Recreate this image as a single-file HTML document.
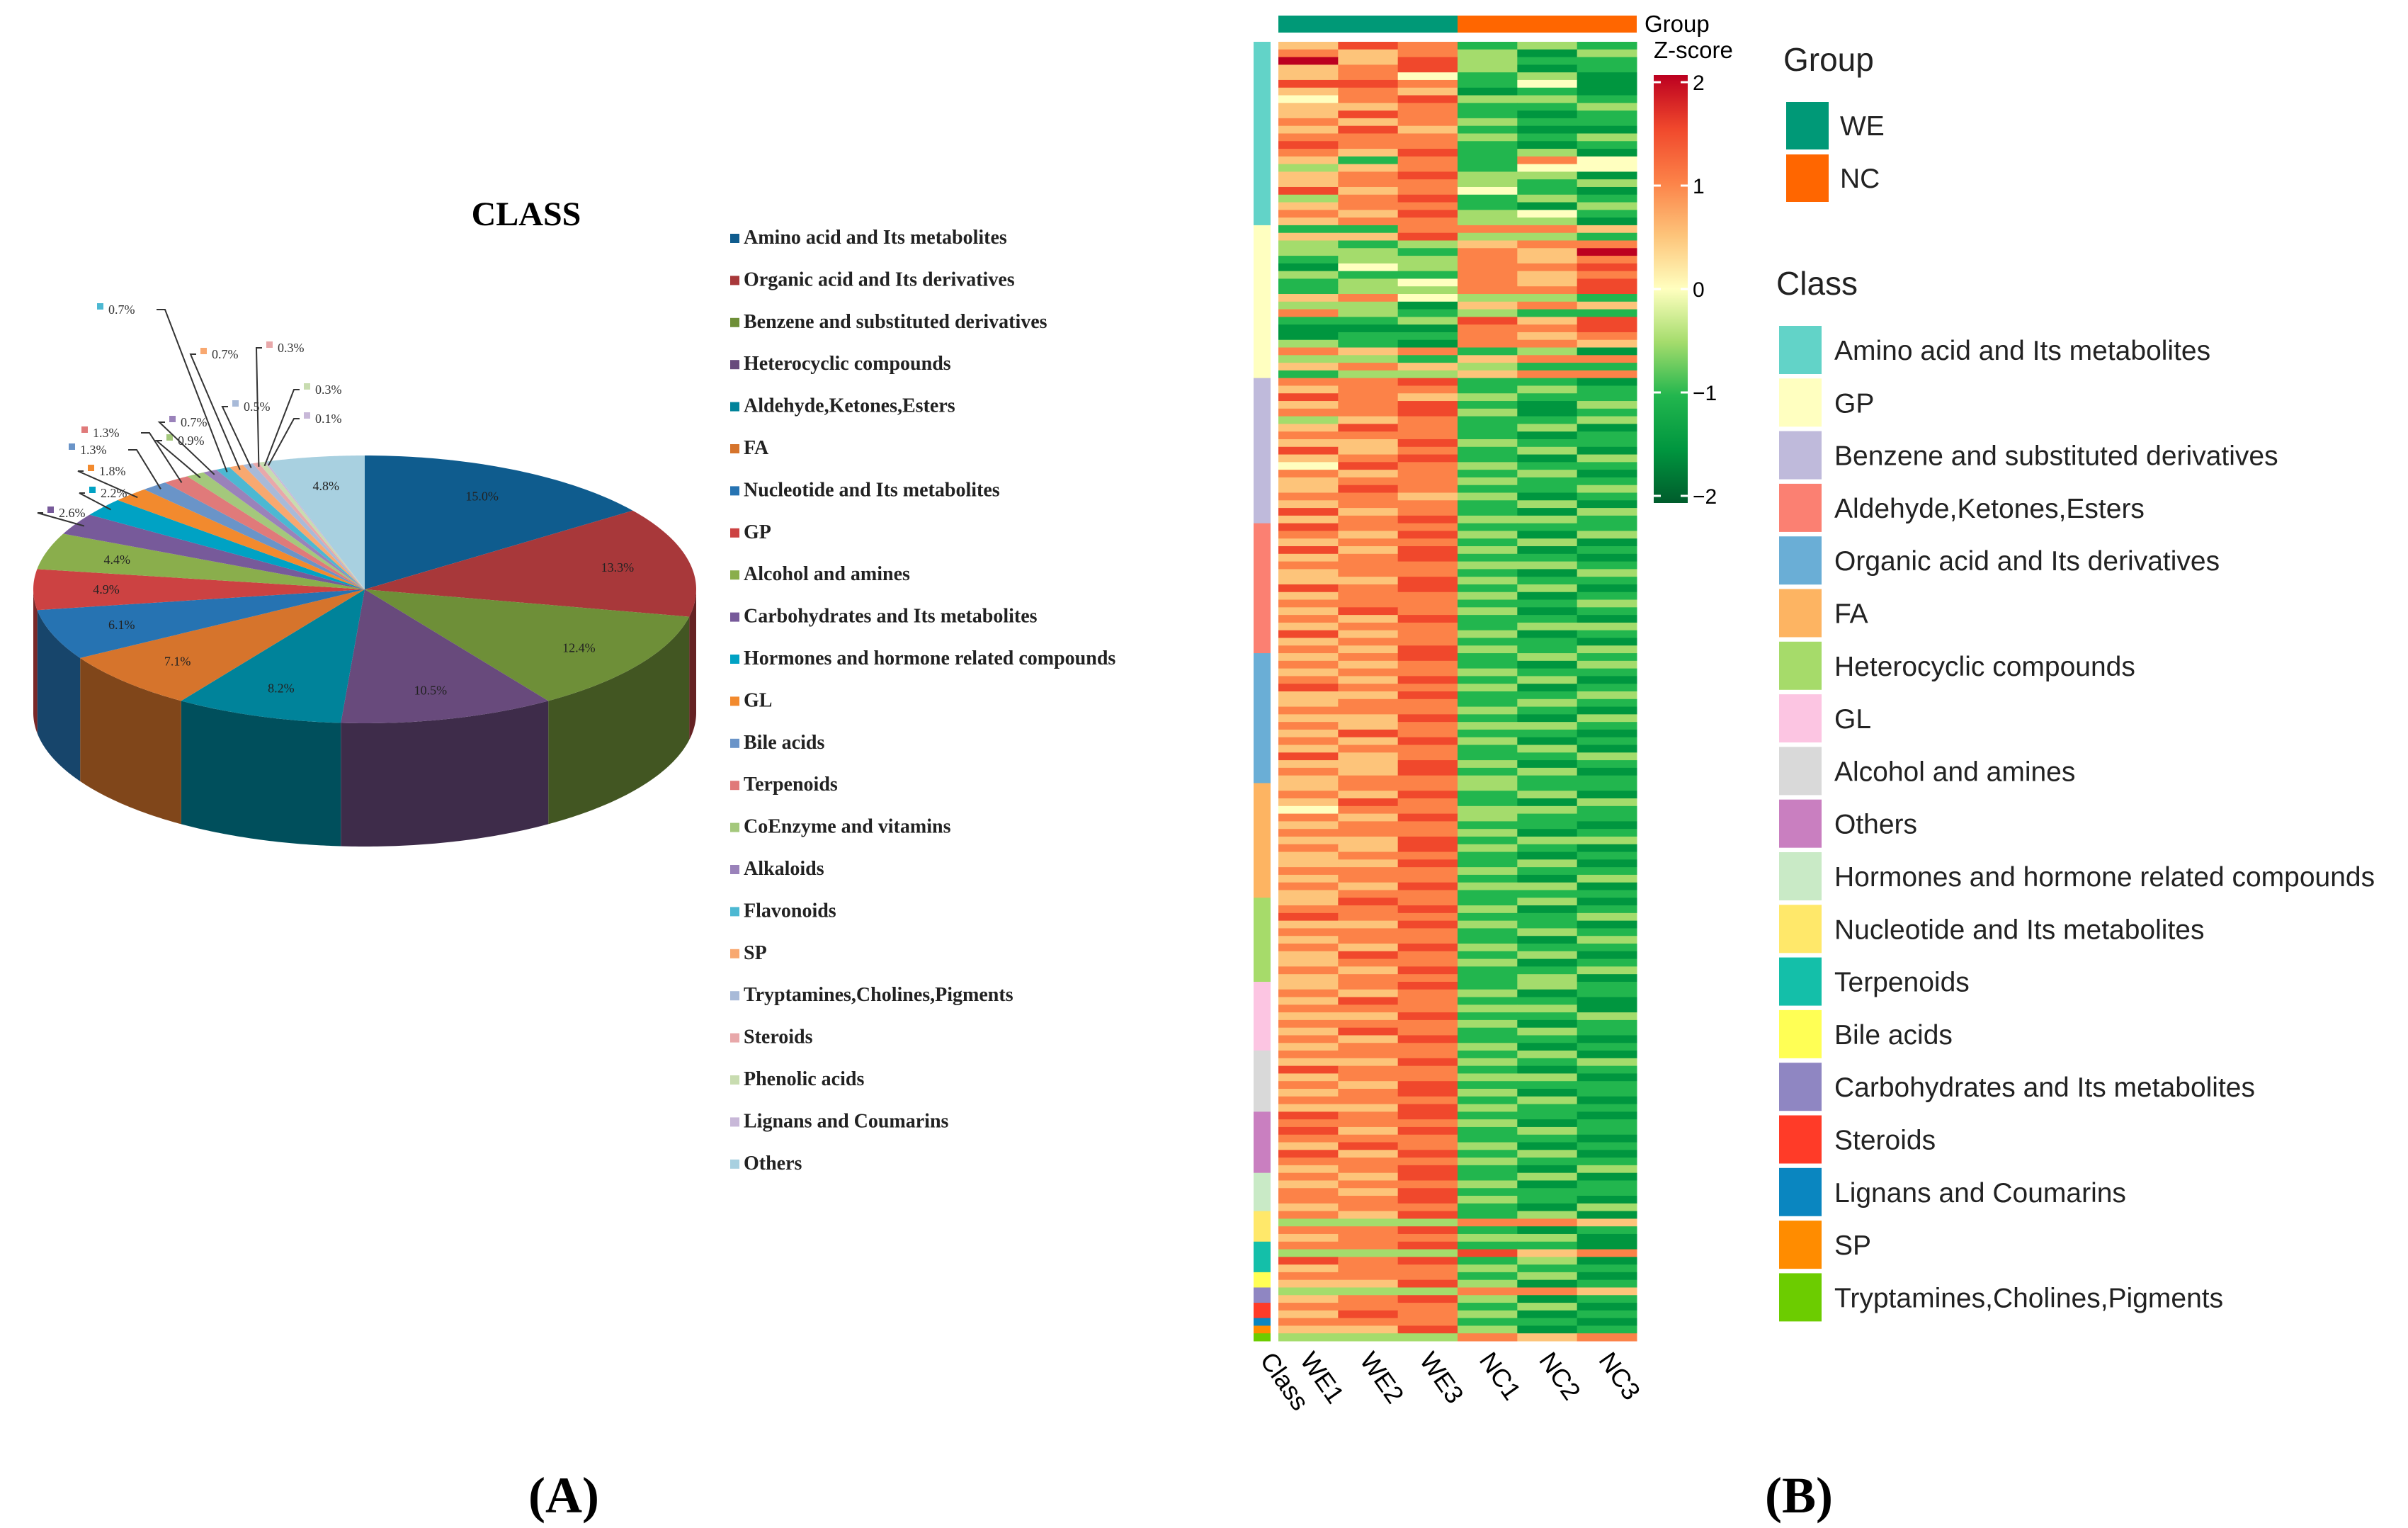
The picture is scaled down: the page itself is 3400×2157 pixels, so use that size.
<!DOCTYPE html>
<html><head><meta charset="utf-8"><style>
html,body{margin:0;padding:0;background:#fff}
svg{display:block}
.serif{font-family:"Liberation Serif",serif}
.sans{font-family:"Liberation Sans",sans-serif}
</style></head><body>
<svg id="fig" width="3400" height="2157" viewBox="0 0 3400 2157" xmlns="http://www.w3.org/2000/svg">
<g id="pieG"></g>
<text x="743" y="318" text-anchor="middle" class="serif" font-weight="bold" font-size="48">CLASS</text>
<g id="pieLegend"></g>
<g id="heatG"></g>
<g id="heatLegend"></g>
<text x="796" y="2135" text-anchor="middle" class="serif" font-weight="bold" font-size="72">(A)</text>
<text x="2540" y="2135" text-anchor="middle" class="serif" font-weight="bold" font-size="72">(B)</text>
</svg>
<script>
// ---------- PIE DATA ----------
const pieValues=[15.0,13.3,12.4,10.5,8.2,7.1,6.1,4.9,4.4,2.6,2.2,1.8,1.3,1.3,0.9,0.7,0.7,0.7,0.5,0.3,0.3,0.1,4.8];
const pieNames=["Amino acid and Its metabolites","Organic acid and Its derivatives","Benzene and substituted derivatives","Heterocyclic compounds","Aldehyde,Ketones,Esters","FA","Nucleotide and Its metabolites","GP","Alcohol and amines","Carbohydrates and Its metabolites","Hormones and hormone related compounds","GL","Bile acids","Terpenoids","CoEnzyme and vitamins","Alkaloids","Flavonoids","SP","Tryptamines,Cholines,Pigments","Steroids","Phenolic acids","Lignans and Coumarins","Others"];
const pieColors=["#0f5c8e","#a8383a","#6e8f38","#684a7c","#00839a","#d6742c","#2673b2","#cc4242","#8aae4c","#775a9a","#00a2c4","#f28a2e","#6a94c8","#e07a7a","#a4c87c","#9a82ba","#4cb8d2","#f8a870","#a8bad8","#e8a8aa","#c8dcb0","#c8b8d8","#a8d0e0"];
// ---------- HEATMAP DATA ----------
const columns=["WE1","WE2","WE3","NC1","NC2","NC3"];
const classNames=["Amino acid and Its metabolites","GP","Benzene and substituted derivatives","Aldehyde,Ketones,Esters","Organic acid and Its derivatives","FA","Heterocyclic compounds","GL","Alcohol and amines","Others","Hormones and hormone related compounds","Nucleotide and Its metabolites","Terpenoids","Bile acids","Carbohydrates and Its metabolites","Steroids","Lignans and Coumarins","SP","Tryptamines,Cholines,Pigments"];
const classColors=["#62d3c8","#ffffc0","#bfbadb","#fb8072","#6aaed6","#fdb462","#a6db6a","#fcc5e2","#d9d9d9","#c97fc0","#c9eac6","#ffe86a","#14bfa9","#ffff55","#8f86c2","#ff3b28","#0a86c0","#ff8c00","#6ccc00"];
const classCounts=[24,20,19,17,17,15,11,9,8,8,5,4,4,2,2,2,1,1,1];
const zTicks=[2,1,0,-1,-2];
// each row: 6 levels 0..8 mapping to z = level/2 - 2
const rowLevels=[
"576232","656313","857322","567312","564231","776241","565121","467332","556223","576212","656322","575211","666323","766212","657231","526264","356244","567331","566323","756421","367232","566213","657342","566331",
"226665","557332","323566","332658","233656","143667","322656","234657","233667","564332","331565","632322","223757","111667","122656","321665","656231","332566","565322","233566",
"667221","566232","765322","567213","667312","356223","576231","666212","557322","756231","567213","476322","656231","566322","576223","665312","566231","756213","567332",
"766222","657313","566231","757312","567221","666332","566213","557322","767231","566312","666223","576312","657221","566233","756312","566221","657323",
"567232","656213","566322","657231","766312","557223","566232","666321","557213","656332","576221","657312","566231","756223","557312","657231","566322",
"566322","657231","576213","466332","657322","566221","666312","557233","657321","566212","557231","666322","566213","657331","566222",
"576231","667312","766223","557321","666232","566213","657322","576231","566312","657223","566231",
"567232","656312","576221","666331","557223","666312","576232","657221","566312",
"666231","557323","766212","566331","657222","567312","666231","557322",
"767221","666312","757232","666221","576312","757231","666322","567213",
"657231","566312","657222","667321","566213",
"657231","333665","667212","566331",
"667221","333756","767231","566322",
"666231","557312","333665","567312","666231","576312","666221","557312","333656"];

const NS="http://www.w3.org/2000/svg";
function mk(tag,attrs,parent){const e=document.createElementNS(NS,tag);for(const k in attrs)e.setAttribute(k,attrs[k]);parent.appendChild(e);return e;}
function shade(hex,f){const n=parseInt(hex.slice(1),16);let r=(n>>16)&255,g=(n>>8)&255,b=n&255;return `rgb(${Math.round(r*f)},${Math.round(g*f)},${Math.round(b*f)})`;}

// ---------- PIE ----------
const pie=document.getElementById('pieG');
const cx=515,cy=832,rx=468,ry=189,depth=174;
const total=pieValues.reduce((a,b)=>a+b,0);
function pt(a,off){const r=a*Math.PI/180;return [cx+rx*Math.sin(r),cy-ry*Math.cos(r)+(off||0)];}
let angles=[],acc=0;
pieValues.forEach(v=>{const a1=acc/total*360;acc+=v;angles.push([a1,acc/total*360]);});
angles.forEach(([a1,a2],i)=>{
  const s=Math.max(a1,90),e=Math.min(a2,270);if(s>=e)return;
  let pts=[];for(let a=s;a<=e+0.001;a+=Math.max(0.5,(e-s)/60))pts.push(pt(Math.min(a,e)));
  pts.push(pt(e));
  let bot=pts.slice().reverse().map(p=>[p[0],p[1]+depth]);
  const w=mk('polygon',{points:pts.concat(bot).map(p=>p.join(',')).join(' '),fill:shade(pieColors[i],0.6)},pie);
  
  
});
angles.forEach(([a1,a2],i)=>{
  let pts=[[cx,cy]];const step=Math.max(0.2,(a2-a1)/60);
  for(let a=a1;a<a2;a+=step)pts.push(pt(a));pts.push(pt(a2));
  const s=mk('polygon',{points:pts.map(p=>p.join(',')).join(' '),fill:pieColors[i]},pie);
  
  
});
const outsideLabelPos={16:[153,443],17:[299,506],19:[392,497],20:[445,556],18:[344,580],21:[445,597],15:[255,602],14:[251,628],13:[131,617],12:[113,641],11:[140,671],10:[142,702],9:[83,730]};
angles.forEach(([a1,a2],i)=>{
  const mid=(a1+a2)/2,txt=pieValues[i].toFixed(1)+'%';
  if(outsideLabelPos[i]){
    const [lx,ly]=outsideLabelPos[i];
    const r=mid*Math.PI/180;const rim=[cx+rx*0.97*Math.sin(r),cy-ry*0.97*Math.cos(r)];
    let pts;
    if(rim[0]>lx+60){pts=`${lx+68},${ly-6} ${lx+80},${ly-6} ${rim[0]},${rim[1]}`;}
    else{pts=`${lx-22},${ly-6} ${lx-30},${ly-6} ${rim[0]},${rim[1]}`;}
    const l=mk('polyline',{points:pts,fill:'none',stroke:'#333','stroke-width':2},pie);
    
    const sq=mk('rect',{x:lx-16,y:ly-15,width:9,height:9,fill:pieColors[i]},pie);
    
    const t=mk('text',{x:lx,y:ly,'font-size':18,class:'serif',fill:'#333'},pie);t.textContent=txt;
    
  }else{
    const r=mid*Math.PI/180;const k=0.78;
    const t=mk('text',{x:cx+rx*k*Math.sin(r),y:cy-ry*k*Math.cos(r)+6,'font-size':18,class:'serif','text-anchor':'middle',fill:'#222'},pie);t.textContent=txt;
    
  }
});
const pl=document.getElementById('pieLegend');
pieNames.forEach((n,i)=>{
  const y=340+i*59.4;
  const r=mk('rect',{x:1031,y:y-10,width:13,height:13,fill:pieColors[i]},pl);
  
  const t=mk('text',{x:1050,y:y+4,'font-size':28,'font-weight':'bold',class:'serif',fill:'#222'},pl);t.textContent=n;
  
});

// ---------- HEATMAP ----------
const hg=document.getElementById('heatG');
const hx0=1805,hx1=2311,hy0=59,hy1=1893;
const nRows=rowLevels.length,cw=(hx1-hx0)/columns.length,rh=(hy1-hy0)/nRows;
const stops=[[-2,'#005c2c'],[-1.5,'#00963f'],[-1,'#22b64e'],[-0.5,'#a4dc6c'],[0,'#ffffbf'],[0.5,'#fdc47a'],[1,'#fc8248'],[1.5,'#f0482c'],[2,'#bc0020']];
function hexRGB(h){const n=parseInt(h.slice(1),16);return[(n>>16)&255,(n>>8)&255,n&255];}
function zcol(z){z=Math.max(-2,Math.min(2,z));for(let i=0;i<stops.length-1;i++){const[a,ca]=stops[i],[b,cb]=stops[i+1];if(z<=b){const t=(z-a)/(b-a),A=hexRGB(ca),B=hexRGB(cb);return`rgb(${A.map((v,j)=>Math.round(v+(B[j]-v)*t)).join(',')})`;}}return stops[stops.length-1][1];}
function yRow(r){return hy0+r*rh;}
function xCol(c){return hx0+c*cw;}
rowLevels.forEach((s,r)=>{for(let c=0;c<columns.length;c++){
  const z=parseInt(s[c])/2-2;
  const e=mk('rect',{x:xCol(c),y:yRow(r),width:cw+0.5,height:rh+0.5,fill:zcol(z)},hg);
  
  
}});
const gb1=mk('rect',{x:hx0,y:22,width:cw*3,height:24,fill:'#009977'},hg);

const gb2=mk('rect',{x:hx0+cw*3,y:22,width:cw*3,height:24,fill:'#ff6600'},hg);

const gt=mk('text',{x:2322,y:45,'font-size':33,class:'sans'},hg);gt.textContent='Group';

let rr=0;classCounts.forEach((n,i)=>{
  const e=mk('rect',{x:1770,y:yRow(rr),width:24,height:rh*n+0.5,fill:classColors[i]},hg);
  rr+=n;});
['Class'].concat(columns).forEach((n,i)=>{
  const x=i===0?1778:xCol(i-1)+cw*0.35;
  const t=mk('text',{x:x,y:1920,'font-size':36,class:'sans',transform:`rotate(55 ${x} 1920)`},hg);t.textContent=n;
  
});
const defs=mk('defs',{},hg);const lg=mk('linearGradient',{id:'zg',x1:0,y1:1,x2:0,y2:0},defs);
stops.forEach(([z,c])=>mk('stop',{offset:((z+2)/4*100)+'%','stop-color':c},lg));
const cbTop=116,cbBot=700;
function yZ(z){return cbBot-(z+2)/4*(cbBot-cbTop);}
const cbr=mk('rect',{x:2335,y:cbTop-10,width:48,height:cbBot-cbTop+20,fill:'url(#zg)'},hg);

const zt=mk('text',{x:2335,y:82,'font-size':33,class:'sans'},hg);zt.textContent='Z-score';

zTicks.forEach(z=>{
  const y=yZ(z);
  const a=mk('line',{x1:2335,x2:2345,y1:y,y2:y,stroke:'#fff','stroke-width':3},hg);
  
  const b=mk('line',{x1:2373,x2:2383,y1:y,y2:y,stroke:'#fff','stroke-width':3},hg);
  
  const t=mk('text',{x:2390,y:y+11,'font-size':30,class:'sans'},hg);t.textContent=z<0?'\u2212'+(-z):String(z);
  
});
const hl=document.getElementById('heatLegend');
const gT=mk('text',{x:2518,y:100,'font-size':46,class:'sans',fill:'#222'},hl);gT.textContent='Group';

[['WE','#009977'],['NC','#ff6600']].forEach(([n,c],i)=>{
  const y=144+i*74;
  const r=mk('rect',{x:2522,y:y,width:60,height:67,fill:c},hl);
  
  const t=mk('text',{x:2598,y:y+47,'font-size':39,class:'sans',fill:'#222'},hl);t.textContent=n;
  
});
const cT=mk('text',{x:2508,y:416,'font-size':46,class:'sans',fill:'#222'},hl);cT.textContent='Class';

classNames.forEach((n,i)=>{
  const y=460+i*74.3;
  const r=mk('rect',{x:2512,y:y,width:60,height:68,fill:classColors[i]},hl);
  
  const t=mk('text',{x:2590,y:y+48,'font-size':39,class:'sans',fill:'#222'},hl);t.textContent=n;
  
});
</script>
</body></html>
